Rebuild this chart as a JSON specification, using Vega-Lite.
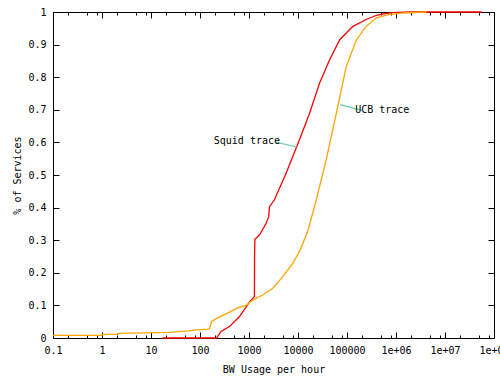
{
  "$schema": "https://vega.github.io/schema/vega-lite/v6.json",
  "width": 441,
  "height": 326,
  "autosize": {"type": "none"},
  "padding": {"left": 53, "top": 12, "right": 6, "bottom": 48},
  "background": "white",
  "config": {
    "view": {"stroke": "#000", "strokeWidth": 1},
    "font": "DejaVu Sans Mono",
    "axis": {
      "labelFont": "DejaVu Sans Mono",
      "labelFontSize": 10,
      "labelColor": "#000",
      "titleFont": "DejaVu Sans Mono",
      "titleFontSize": 10,
      "titleFontWeight": "normal",
      "titleColor": "#000",
      "tickColor": "#000",
      "grid": false,
      "domain": false
    }
  },
  "datasets": {
    "curves": [
      {"series": "Squid", "x": 17, "y": 0},
      {"series": "Squid", "x": 215, "y": 0},
      {"series": "Squid", "x": 222, "y": 0.002},
      {"series": "Squid", "x": 269, "y": 0.02},
      {"series": "Squid", "x": 398, "y": 0.035},
      {"series": "Squid", "x": 634, "y": 0.065},
      {"series": "Squid", "x": 1020, "y": 0.11},
      {"series": "Squid", "x": 1290, "y": 0.127},
      {"series": "Squid", "x": 1300, "y": 0.26},
      {"series": "Squid", "x": 1320, "y": 0.303},
      {"series": "Squid", "x": 1630, "y": 0.316},
      {"series": "Squid", "x": 2240, "y": 0.352},
      {"series": "Squid", "x": 2530, "y": 0.373},
      {"series": "Squid", "x": 2620, "y": 0.403},
      {"series": "Squid", "x": 3310, "y": 0.424},
      {"series": "Squid", "x": 5750, "y": 0.506},
      {"series": "Squid", "x": 10700, "y": 0.608},
      {"series": "Squid", "x": 17300, "y": 0.69},
      {"series": "Squid", "x": 27600, "y": 0.782},
      {"series": "Squid", "x": 44000, "y": 0.853},
      {"series": "Squid", "x": 71000, "y": 0.915},
      {"series": "Squid", "x": 132000, "y": 0.956},
      {"series": "Squid", "x": 247000, "y": 0.977},
      {"series": "Squid", "x": 398000, "y": 0.99},
      {"series": "Squid", "x": 600000, "y": 0.995},
      {"series": "Squid", "x": 850000, "y": 0.998},
      {"series": "Squid", "x": 2000000, "y": 1},
      {"series": "Squid", "x": 56000000, "y": 1},
      {"series": "UCB", "x": 0.1, "y": 0.008},
      {"series": "UCB", "x": 1, "y": 0.008},
      {"series": "UCB", "x": 1, "y": 0.011},
      {"series": "UCB", "x": 2.1, "y": 0.011},
      {"series": "UCB", "x": 2.1, "y": 0.014},
      {"series": "UCB", "x": 24, "y": 0.017},
      {"series": "UCB", "x": 57, "y": 0.022},
      {"series": "UCB", "x": 85, "y": 0.025},
      {"series": "UCB", "x": 150, "y": 0.027},
      {"series": "UCB", "x": 158, "y": 0.03},
      {"series": "UCB", "x": 172, "y": 0.05},
      {"series": "UCB", "x": 217, "y": 0.06},
      {"series": "UCB", "x": 348, "y": 0.075},
      {"series": "UCB", "x": 557, "y": 0.091},
      {"series": "UCB", "x": 891, "y": 0.101},
      {"series": "UCB", "x": 1220, "y": 0.117},
      {"series": "UCB", "x": 1900, "y": 0.132},
      {"series": "UCB", "x": 3030, "y": 0.152},
      {"series": "UCB", "x": 4900, "y": 0.188},
      {"series": "UCB", "x": 7800, "y": 0.229},
      {"series": "UCB", "x": 10700, "y": 0.265},
      {"series": "UCB", "x": 16000, "y": 0.33},
      {"series": "UCB", "x": 23600, "y": 0.424},
      {"series": "UCB", "x": 37700, "y": 0.547},
      {"series": "UCB", "x": 60600, "y": 0.69},
      {"series": "UCB", "x": 97000, "y": 0.834},
      {"series": "UCB", "x": 156000, "y": 0.915},
      {"series": "UCB", "x": 247000, "y": 0.956},
      {"series": "UCB", "x": 398000, "y": 0.982},
      {"series": "UCB", "x": 700000, "y": 0.992},
      {"series": "UCB", "x": 1380000, "y": 0.997},
      {"series": "UCB", "x": 4200000, "y": 1}
    ],
    "leaders": [
      {"series": "Squid", "x": 3550, "y": 0.601, "x2": 9400, "y2": 0.586},
      {"series": "UCB", "x": 72300, "y": 0.716, "x2": 200900, "y2": 0.698}
    ]
  },
  "layer": [
    {
      "data": {"name": "curves"},
      "mark": {"type": "line", "opacity": 0},
      "encoding": {
        "x": {"field": "x", "type": "quantitative",
          "scale": {"type": "log", "domain": [0.1, 100000000], "nice": false},
          "axis": {"orient": "bottom", "values": [0.1, 1, 10, 100, 1000, 10000, 100000, 1000000, 10000000, 100000000],
            "labels": false, "ticks": true, "tickSize": -6, "title": null}},
        "y": {"field": "y", "type": "quantitative",
          "scale": {"domain": [0, 1], "nice": false, "zero": false},
          "axis": {"orient": "left", "values": [0, 0.1, 0.2, 0.3, 0.4, 0.5, 0.6, 0.7, 0.8, 0.9, 1],
            "labels": false, "ticks": true, "tickSize": -6, "title": null}}
      }
    },
    {
      "data": {"name": "curves"},
      "mark": {"type": "line", "opacity": 0},
      "encoding": {
        "x": {"field": "x", "type": "quantitative",
          "axis": {"orient": "top", "values": [0.1, 1, 10, 100, 1000, 10000, 100000, 1000000, 10000000, 100000000],
            "labels": false, "ticks": true, "tickSize": -6, "title": null}},
        "y": {"field": "y", "type": "quantitative",
          "axis": {"orient": "right", "values": [0, 0.1, 0.2, 0.3, 0.4, 0.5, 0.6, 0.7, 0.8, 0.9, 1],
            "labels": false, "ticks": true, "tickSize": -6, "title": null}}
      }
    },
    {
      "data": {"name": "curves"},
      "mark": {"type": "line", "opacity": 0},
      "encoding": {
        "x": {"field": "x", "type": "quantitative",
          "axis": {"orient": "bottom",
            "values": [0.2, 0.5, 0.8, 2, 5, 8, 20, 50, 80, 200, 500, 800, 2000, 5000, 8000, 20000, 50000, 80000, 200000, 500000, 800000, 2000000, 5000000, 8000000, 20000000, 50000000, 80000000],
            "labels": false, "ticks": true, "tickSize": -3, "title": null}},
        "y": {"field": "y", "type": "quantitative", "axis": null}
      }
    },
    {
      "data": {"name": "curves"},
      "mark": {"type": "line", "opacity": 0},
      "encoding": {
        "x": {"field": "x", "type": "quantitative",
          "axis": {"orient": "top",
            "values": [0.2, 0.5, 0.8, 2, 5, 8, 20, 50, 80, 200, 500, 800, 2000, 5000, 8000, 20000, 50000, 80000, 200000, 500000, 800000, 2000000, 5000000, 8000000, 20000000, 50000000, 80000000],
            "labels": false, "ticks": true, "tickSize": -3, "title": null}},
        "y": {"field": "y", "type": "quantitative", "axis": null}
      }
    },
    {
      "data": {"name": "curves"},
      "mark": {"type": "line", "strokeWidth": 1.3},
      "encoding": {
        "x": {
          "field": "x", "type": "quantitative",
          "axis": {
            "orient": "bottom",
            "values": [0.1, 1, 10, 100, 1000, 10000, 100000, 1000000, 10000000, 100000000],
            "labelExpr": "datum.value >= 1000000 ? '1e+0' + round(log(datum.value)/LN10) : format(datum.value, '~g')",
            "ticks": false,
            "labelPadding": 7,
            "labelFlush": false,
            "labelOverlap": false,
            "title": "BW Usage per hour",
            "titlePadding": 9
          }
        },
        "y": {
          "field": "y", "type": "quantitative",
          "axis": {
            "orient": "left",
            "values": [0, 0.1, 0.2, 0.3, 0.4, 0.5, 0.6, 0.7, 0.8, 0.9, 1],
            "format": "~g",
            "ticks": false,
            "labelPadding": 7,
            "labelFlush": false,
            "labelOverlap": false,
            "title": "% of Services",
            "titlePadding": 5
          }
        },
        "color": {
          "field": "series", "type": "nominal",
          "scale": {"domain": ["Squid", "UCB"], "range": ["#ff0000", "#ffa500"]},
          "legend": null
        },
        "order": {"field": "x", "type": "quantitative"}
      }
    },
    {
      "data": {"name": "leaders"},
      "mark": {"type": "rule", "color": "#66cdaa", "strokeWidth": 1.2},
      "encoding": {
        "x": {"field": "x", "type": "quantitative", "axis": null},
        "y": {"field": "y", "type": "quantitative", "axis": null},
        "x2": {"field": "x2"},
        "y2": {"field": "y2"}
      }
    },
    {
      "data": {"values": [{"label": "Squid trace", "x": 4290, "y": 0.603}]},
      "mark": {"type": "text", "align": "right", "baseline": "middle", "font": "DejaVu Sans Mono", "fontSize": 10, "color": "#000"},
      "encoding": {
        "x": {"field": "x", "type": "quantitative", "axis": null},
        "y": {"field": "y", "type": "quantitative", "axis": null},
        "text": {"field": "label"}
      }
    },
    {
      "data": {"values": [{"label": "UCB trace", "x": 146600, "y": 0.7}]},
      "mark": {"type": "text", "align": "left", "baseline": "middle", "font": "DejaVu Sans Mono", "fontSize": 10, "color": "#000"},
      "encoding": {
        "x": {"field": "x", "type": "quantitative", "axis": null},
        "y": {"field": "y", "type": "quantitative", "axis": null},
        "text": {"field": "label"}
      }
    }
  ],
  "resolve": {"axis": {"x": "independent", "y": "independent"}}
}
